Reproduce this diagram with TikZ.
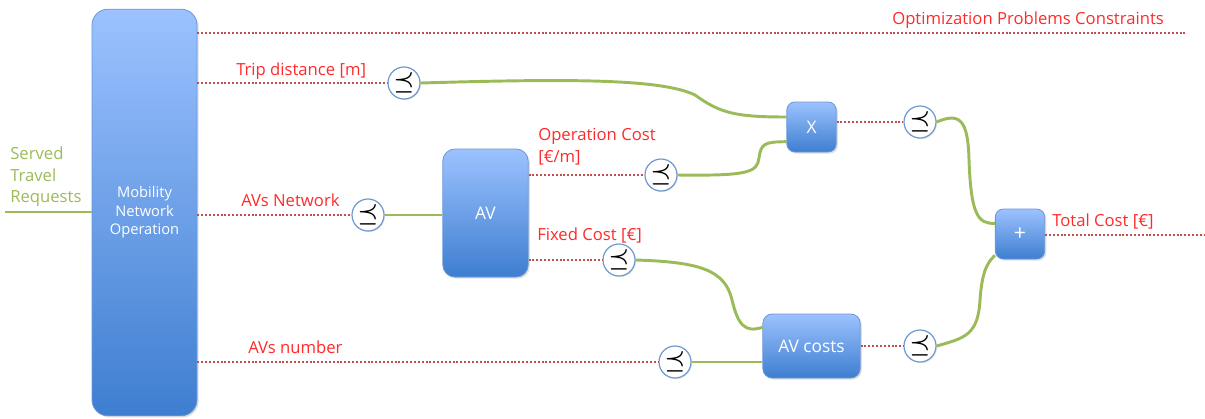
\documentclass[tikz,border=0pt]{standalone}
\usepackage{fontspec}
\setmainfont{Open Sans}
\usetikzlibrary{shadows}
\definecolor{grn}{HTML}{9BBB59}
\definecolor{dotred}{HTML}{C0504D}
\definecolor{lblred}{HTML}{FF2A2A}
\definecolor{boxtop}{HTML}{9CC2FF}
\definecolor{boxbot}{HTML}{3E7ED0}
\definecolor{boxedge}{HTML}{6A98D6}
\definecolor{circedge}{HTML}{6E9AD0}
\tikzset{
  box/.style={draw=boxedge, line width=0.6pt, top color=boxtop, bottom color=boxbot,
    text=white, align=center, inner sep=0pt,
    drop shadow={opacity=0.25, shadow xshift=1.2pt, shadow yshift=-1.2pt}},
  cmp/.style={circle, draw=circedge, fill=white, line width=0.9pt, minimum size=24pt,
    inner sep=0pt, font=\fontsize{19}{19}\selectfont\boldmath,
    drop shadow={opacity=0.2, shadow xshift=0.8pt, shadow yshift=-0.8pt}},
  dots/.style={dotred, line width=1.7pt, dash pattern=on 1.5pt off 1.4pt},
  wire/.style={grn, line width=2.2pt},
  lbl/.style={text=lblred, font=\fontsize{12.5}{15}\selectfont, anchor=base west, inner sep=0pt},
  glbl/.style={text=grn, font=\fontsize{12.5}{15}\selectfont, anchor=base west, inner sep=0pt},
}
\begin{document}
\begin{tikzpicture}[x=0.75pt,y=-0.75pt]
\useasboundingbox (0,0) rectangle (1205,418);
% boxes
\node[box, rounded corners=12pt, minimum width=78.75pt, minimum height=305pt,
  font=\fontsize{11}{13.75}\selectfont] (mno) at (144.5,212.5) {Mobility\\Network\\Operation};
\node[box, rounded corners=9pt, minimum width=64pt, minimum height=96pt,
  font=\fontsize{13}{15}\selectfont] (av) at (485.5,213) {AV};
\node[box, rounded corners=6pt, minimum width=37pt, minimum height=37.5pt,
  font=\fontsize{13}{15}\selectfont] (mul) at (811.5,127) {X};
\node[box, rounded corners=6pt, minimum width=37pt, minimum height=37.5pt,
  font=\fontsize{16}{16}\selectfont] (plus) at (1020,234) {+};
\node[box, rounded corners=7pt, minimum width=73pt, minimum height=48pt,
  font=\fontsize{13}{15}\selectfont] (avc) at (811.5,346) {AV costs};
% circles
\node[cmp] (c1) at (404,83) {$\preceq$};
\node[cmp] (c2) at (368,215) {$\preceq$};
\node[cmp] (c3) at (661,175) {$\preceq$};
\node[cmp] (c4) at (619,260) {$\preceq$};
\node[cmp] (c5) at (675,362) {$\preceq$};
\node[cmp] (c6) at (920,122) {$\preceq$};
\node[cmp] (c7) at (920,346) {$\preceq$};
% free ends
\coordinate (srv) at (5,212);
\coordinate (opt) at (1185,33);
\coordinate (tot) at (1205,235);
% labels
\node[glbl] (l1) at (10,159) {Served};
\node[glbl] (l2) at (10,181) {Travel};
\node[glbl] (l3) at (10,202) {Requests};
\node[lbl] (lopt) at (892,24) {Optimization Problems Constraints};
\node[lbl] (ltrip) at (236,75) {Trip distance [m]};
\node[lbl] (lnet) at (241,206) {AVs Network};
\node[lbl] (lop1) at (538,140) {Operation Cost};
\node[lbl] (lop2) at (538,162) {[€/m]};
\node[lbl] (lfix) at (537,240) {Fixed Cost [€]};
\node[lbl] (lnum) at (248,353) {AVs number};
\node[lbl] (ltot) at (1052,226) {Total Cost [€]};
% dotted connectors
\draw[dots] (mno.east |- opt) -- (opt);
\draw[dots] (mno.east |- c1) -- (c1.west);
\draw[dots] (mno.east |- c2) -- (c2.west);
\draw[dots] (mno.east |- c5) -- (c5.west);
\draw[dots] (av.east |- c3) -- (c3.west);
\draw[dots] (av.east |- c4) -- (c4.west);
\draw[dots] (mul.east |- c6) -- (c6.west);
\draw[dots] (avc.east |- c7) -- (c7.west);
\draw[dots] (plus.east |- tot) -- (tot);
% green wires
\draw[wire] (srv) -- (mno.west |- srv);
\draw[wire] (c2.east) -- (av.west |- c2);
\draw[wire] (c5.east) -- (avc.west |- c5);
\draw[wire] (c1.east) .. controls (560,79) and (660,78) .. (695,95)
  .. controls (720,113) and (735,117) .. ([yshift=7.5pt]mul.west);
\draw[wire] (c3.east) .. controls (750,176) and (757,172) .. (759,158)
  .. controls (761,143) and (765,142) .. ([yshift=-11pt]mul.west);
\draw[wire] (c4.east) .. controls (700,262) and (725,270) .. (732,300)
  .. controls (738,325) and (745,333) .. ([yshift=14pt]avc.west);
\draw[wire] (c6.east) .. controls (960,112) and (968,120) .. (969,160)
  .. controls (971,215) and (978,224) .. ([yshift=8pt]plus.west);
\draw[wire] (c7.east) .. controls (965,338) and (978,335) .. (980,300)
  .. controls (982,270) and (988,262) .. ([yshift=-16pt]plus.west);
\end{tikzpicture}
\end{document}
